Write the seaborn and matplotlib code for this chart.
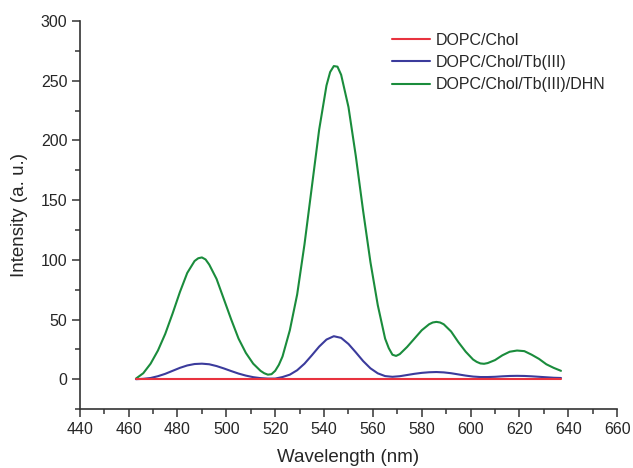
import pandas as pd
import matplotlib
matplotlib.use("Agg")
import matplotlib.pyplot as plt
import seaborn as sns
from matplotlib.ticker import MultipleLocator

sns.set_style("ticks")
plt.rcParams['font.family'] = ['Liberation Sans', 'DejaVu Sans']

# emission spectra
# DOPC/Chol/Tb(III)/DHN (denser sampling near peaks and valleys)
dhn_wavelength = [463, 466, 469, 472, 475, 478, 481, 484, 487, 488.5,
                  490, 491.5, 493, 496, 499, 502, 505, 508, 511, 514,
                  515.5, 517, 518.5, 520, 521.5, 523, 526, 529, 532, 535,
                  538, 541, 542.5, 544, 545.5, 547, 550, 553, 556, 559,
                  562, 565, 566.5, 568, 569.5, 571, 574, 577, 580, 583,
                  584.5, 586, 587.5, 589, 592, 595, 598, 601, 602.5, 604,
                  605.5, 607, 610, 613, 616, 619, 622, 625, 628, 631,
                  634, 637]
dhn = [0.5, 5, 13, 24, 38, 55, 73, 89, 99, 101.3,
       102, 100.3, 96, 84, 67, 50, 34, 22, 13, 7,
       5, 3.8, 4.2, 7, 12, 19, 41, 71, 113, 161,
       209, 246, 257.3, 262.3, 261.8, 255, 228, 187, 141, 98,
       62, 34, 26, 20.5, 19.5, 21, 27, 34, 41, 46,
       47.5, 48, 47.5, 46, 40, 31, 23, 16.5, 14.5, 13.2,
       12.9, 13.5, 16, 20, 23, 24, 23.5, 20.5, 17, 12.5,
       9.5, 7]

# DOPC/Chol/Tb(III)
tb_wavelength = [463, 466, 469, 472, 475, 478, 481, 484, 487, 490,
                 493, 496, 499, 502, 505, 508, 511, 514, 517, 520,
                 523, 526, 529, 532, 535, 538, 541, 544, 547, 550,
                 553, 556, 559, 562, 565, 568, 571, 574, 577, 580,
                 583, 586, 589, 592, 595, 598, 601, 604, 607, 610,
                 613, 616, 619, 622, 625, 628, 631, 634, 637]
tb = [0, 0.3, 1, 2.5, 4.5, 7, 9.5, 11.5, 12.7, 13,
      12.5, 11, 9, 6.8, 4.7, 3, 1.7, 0.9, 0.5, 0.5,
      1.8, 3.8, 7.5, 13, 20, 27.3, 33.2, 36, 34.6, 29.5,
      22.5, 15.2, 9.1, 4.9, 2.6, 2, 2.5, 3.5, 4.5, 5.3,
      5.8, 6, 5.7, 5, 4, 3, 2.2, 1.8, 1.8, 2,
      2.4, 2.7, 2.8, 2.7, 2.4, 2, 1.6, 1.2, 1]

# DOPC/Chol (flat)
chol_wavelength = [463, 637]
chol = [0, 0]

labels = ['DOPC/Chol', 'DOPC/Chol/Tb(III)', 'DOPC/Chol/Tb(III)/DHN']
colors = ['#e8333f', '#3b3b9c', '#1a8c3c']

fig = plt.figure(figsize=(6.33, 4.68), dpi=100)
ax = fig.add_axes([0.126, 0.126, 0.849, 0.829])

sns.lineplot(x=dhn_wavelength, y=dhn, color=colors[2], lw=1.5, label=labels[2], ax=ax)
sns.lineplot(x=tb_wavelength, y=tb, color=colors[1], lw=1.5, label=labels[1], ax=ax)
sns.lineplot(x=chol_wavelength, y=chol, color=colors[0], lw=1.5, label=labels[0], ax=ax)
for line in ax.get_lines():
    line.set_solid_joinstyle('round')

ax.set_xlim(440, 660)
ax.set_ylim(-25, 300)
ax.xaxis.set_major_locator(MultipleLocator(20))
ax.xaxis.set_minor_locator(MultipleLocator(10))
ax.yaxis.set_major_locator(MultipleLocator(50))
ax.yaxis.set_minor_locator(MultipleLocator(25))
ax.tick_params(which='major', length=6, width=1.1, labelsize=11.5, color='#333333', pad=3)
ax.tick_params(which='minor', length=3.5, width=1.1, color='#333333')
for s in ['left', 'bottom']:
    ax.spines[s].set_linewidth(1.2)
    ax.spines[s].set_color('#333333')
sns.despine(ax=ax)

ax.set_xlabel('Wavelength (nm)', fontsize=13.5, labelpad=9)
ax.set_ylabel('Intensity (a. u.)', fontsize=13.5, labelpad=9)

h, l = ax.get_legend_handles_labels()
order = [2, 1, 0]
ax.legend([h[i] for i in order], [l[i] for i in order], loc='upper left',
          bbox_to_anchor=(0.619, 0.93), bbox_transform=fig.transFigure,
          frameon=False, fontsize=11.5, handlelength=2.4, handletextpad=0.35,
          labelspacing=0.45, borderpad=0, borderaxespad=0)

fig.savefig('out.png', dpi=100)
